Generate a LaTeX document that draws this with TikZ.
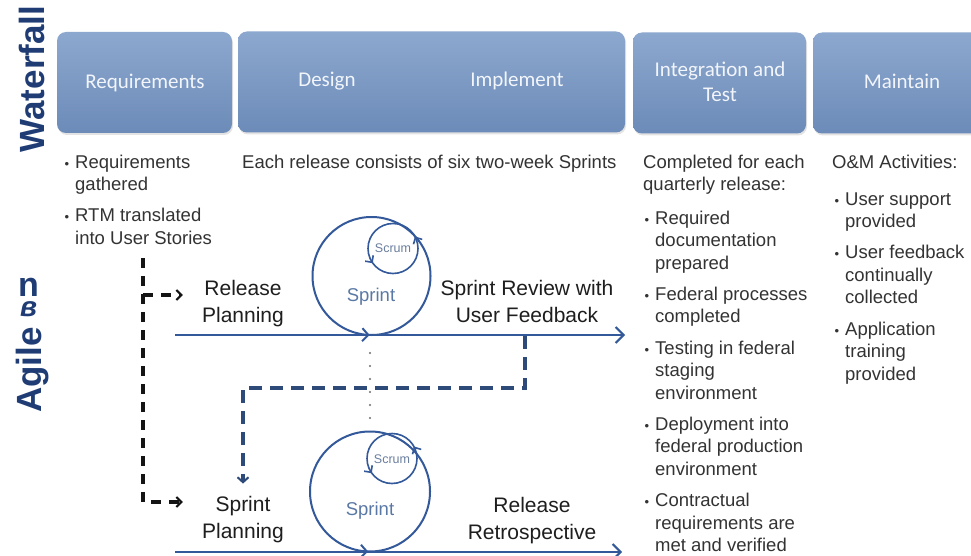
\documentclass[tikz,border=0pt]{standalone}
\usepackage{fontspec}
\setmainfont{Liberation Sans}
\newfontfamily\boxfont{Carlito}
\usetikzlibrary{arrows.meta,decorations.markings,shadows}
\definecolor{navy}{HTML}{1F3C74}
\definecolor{boxtop}{HTML}{8DA8CF}
\definecolor{boxbot}{HTML}{6C8BB8}
\definecolor{boxtxt}{HTML}{F2F5FA}
\definecolor{bodytxt}{HTML}{333333}
\definecolor{agtxt}{HTML}{1E1E1E}
\definecolor{lineblue}{HTML}{33599A}
\definecolor{dashblue}{HTML}{2E4A78}
\definecolor{sprtxt}{HTML}{5A78A6}
\definecolor{scrtxt}{HTML}{6A7E9E}
\newcommand{\pbul}{\leavevmode\llap{{\fontsize{13}{13}\selectfont\textbullet}\hspace{6pt}}}
\newcommand{\mll}[2]{\parbox[t]{#1}{\raggedright #2}}
\newcommand{\mlc}[2]{\parbox[t]{#1}{\centering #2}}
\begin{document}
\begin{tikzpicture}[x=1pt,y=-1pt,
  phase/.style={rounded corners=9pt, top color=boxtop, bottom color=boxbot, inner sep=0pt, minimum height=101pt,
    drop shadow={shadow xshift=1pt, shadow yshift=-2pt, opacity=0.22}},
  boxlbl/.style={font=\boxfont\fontsize{21}{25}\selectfont, text=boxtxt, inner sep=0pt, anchor=base},
  body/.style={font=\fontsize{18.5}{22.6}\selectfont, text=bodytxt, inner sep=0pt, anchor=base west},
  aglbl/.style={font=\fontsize{21}{27}\selectfont, text=agtxt, inner sep=0pt, anchor=base},
  sprlbl/.style={font=\fontsize{18.5}{20}\selectfont, text=sprtxt, inner sep=0pt, anchor=base},
  scrlbl/.style={font=\fontsize{12.5}{14}\selectfont, text=scrtxt, inner sep=0pt, anchor=base},
  side/.style={font=\bfseries\fontsize{35}{35}\selectfont, text=navy, rotate=90, inner sep=0pt},
  frag/.style={font=\bfseries, text=navy, inner sep=0pt, anchor=base},
  timeline/.style={draw=lineblue, line width=2pt, -{Straight Barb[length=8pt,width=16pt]}},
  bigc/.style={draw=lineblue, line width=2pt, postaction={decorate},
    decoration={markings, mark=at position 0.745 with {\arrow[lineblue,line width=2pt]{Straight Barb[length=6pt,width=13pt]}}}},
  smallc/.style={draw=lineblue, line width=1.6pt, postaction={decorate},
    decoration={markings,
      mark=at position 0.08 with {\arrow[lineblue,line width=1.6pt]{Straight Barb[length=5pt,width=10pt]}},
      mark=at position 0.60 with {\arrow[lineblue,line width=1.6pt]{Straight Barb[length=5pt,width=10pt]}}}},
  kdash/.style={draw=black!92, line width=3.6pt, dash pattern=on 10pt off 8pt, -{Straight Barb[length=5pt,width=10pt,line width=2pt]}},
  bdash/.style={draw=dashblue, line width=3.2pt, dash pattern=on 13pt off 8pt, -{Straight Barb[length=5pt,width=11pt,line width=2pt]}},
  dots/.style={draw=gray!85!black, line width=2.4pt, line cap=round, dash pattern=on 0pt off 13pt}
]
\useasboundingbox (0,0) rectangle (971,556);
\fill[white] (0,0) rectangle (971,556);

% ---------- Waterfall phase boxes ----------
\begin{scope}
\clip (0,0) rectangle (971,556);
\node[phase, minimum width=175pt] (reqbox) at (144.5,82.5) {};
\node[phase, minimum width=387pt] (desbox) at (431.5,82) {};
\node[phase, minimum width=173pt] (intbox) at (719.5,83) {};
\node[phase, minimum width=177pt] (mntbox) at (901.5,83) {};
\end{scope}
\node[boxlbl] (reqlbl) at (145,89) {Requirements};
\node[boxlbl] (deslbl) at (327,87) {Design};
\node[boxlbl] (implbl) at (517,87) {Implement};
\node[boxlbl] (intlbl) at (720,77) {\mlc{170pt}{Integration and\\Test}};
\node[boxlbl] (mntlbl) at (902,89) {Maintain};

% ---------- side titles ----------
\node[side] (wf) at (31.5,79) {Waterfall};
\node[side] (ag) at (32.5,370) {Agile};
\node[frag] (fragnv) at (28.5,296) {\parbox[t]{40pt}{\centering\fontsize{34}{20}\selectfont n\\{\itshape\fontsize{28}{20}\selectfont в}}};

% ---------- texts under boxes ----------
\node[body] (reqtxt) at (75,168) {\mll{170pt}{\pbul Requirements\\gathered\\[8.5pt]\pbul RTM translated\\into User Stories}};
\node[body] (reltxt) at (242,168) {Each release consists of six two-week Sprints};
\node[body] (comptxt) at (643,168) {\mll{180pt}{Completed for each\\quarterly release:}};
\node[body] (intlist) at (655,224) {\mll{175pt}{\pbul Required\\documentation\\prepared\\[8.5pt]\pbul Federal processes\\completed\\[8.5pt]\pbul Testing in federal\\staging\\environment\\[8.5pt]\pbul Deployment into\\federal production\\environment\\[8.5pt]\pbul Contractual\\requirements are\\met and verified}};
\node[body] (omtxt) at (832,168) {O\&M Activities:};
\node[body] (omlist) at (845,205) {\mll{130pt}{\pbul User support\\provided\\[8.5pt]\pbul User feedback\\continually\\collected\\[8.5pt]\pbul Application\\training\\provided}};

% ---------- agile labels ----------
\node[aglbl] (relplan) at (243,295) {\mlc{120pt}{Release\\Planning}};
\node[aglbl] (review) at (527,295) {\mlc{190pt}{Sprint Review with\\User Feedback}};
\node[aglbl] (sprplan) at (243,511) {\mlc{120pt}{Sprint\\Planning}};
\node[aglbl] (retro) at (532,512) {\mlc{150pt}{Release\\Retrospective}};

% ---------- timelines ----------
\coordinate (tlAs) at (175,335);
\coordinate (tlAe) at (625,335);
\coordinate (tlBs) at (175,552);
\coordinate (tlBe) at (622,552);
\draw[timeline] (tlAs) -- (tlAe);
\draw[timeline] (tlBs) -- (tlBe);

% ---------- sprint circles ----------
\coordinate (sprA) at (371.5,276);
\coordinate (scrA) at (393,248.5);
\coordinate (sprB) at (370,491.5);
\coordinate (scrB) at (392,458.5);
\draw[bigc] (sprA) ++(0:59) arc[start angle=0, end angle=-360, radius=59];
\draw[smallc] (scrA) ++(0:25) arc[start angle=0, end angle=-360, radius=25];
\draw[bigc] (sprB) ++(0:60) arc[start angle=0, end angle=-360, radius=60];
\draw[smallc] (scrB) ++(0:25) arc[start angle=0, end angle=-360, radius=25];
\node[sprlbl] (sprtA) at (371,301.5) {Sprint};
\node[sprlbl] (sprtB) at (370,515) {Sprint};
\node[scrlbl] (scrtA) at (393,252.5) {Scrum};
\node[scrlbl] (scrtB) at (392,463) {Scrum};

% dotted link between the two sprints
\coordinate (dotA) at (370,353);
\coordinate (dotB) at (370,420);
\draw[dots] (dotA) -- (dotB);

% ---------- dashed connectors ----------
\coordinate (rtmEnd) at (143,258);
\coordinate (kJ) at (143,295);
\coordinate (kB) at (143,502);
\draw[kdash] (rtmEnd) -- (kB) -- (kB -| sprplan.west);
\draw[kdash] (kJ) -- (kJ -| relplan.west);

\coordinate (fbTop) at (525,336);
\draw[bdash, shorten >=12pt] (fbTop) -- ++(0,52) -| (sprplan.north);
\end{tikzpicture}
\end{document}
